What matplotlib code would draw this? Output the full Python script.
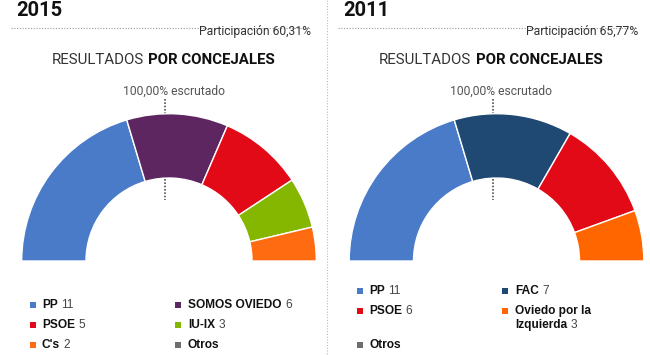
import matplotlib.pyplot as plt

# election results, seats per party
years = ['2015', '2011']
participacion = ['60,31%', '65,77%']
escrutado = '100,00% escrutado'

parties_2015 = ['PP', 'SOMOS OVIEDO', 'PSOE', 'IU-IX', "C's", 'Otros']
seats_2015 = [11, 6, 5, 3, 2, 0]
colors_2015 = ['#4A7BC9', '#5E2660', '#E20A17', '#86B700', '#FF6B10', '#6E6E6E']

parties_2011 = ['PP', 'FAC', 'PSOE', 'Oviedo por la\nIzquierda', 'Otros']
seats_2011 = [11, 7, 6, 3, 0]
colors_2011 = ['#4A7BC9', '#1F4972', '#E20A17', '#FF6600', '#6E6E6E']

W, H = 650, 355
fig = plt.figure(figsize=(6.5, 3.55), dpi=100)
ax0 = fig.add_axes([0, 0, 1, 1])
ax0.set_xlim(0, W)
ax0.set_ylim(H, 0)
ax0.axis('off')

# panel layout (pixels)
offsets = [0, 327]
centers = [169, 496.5]
base_y = 261
r_out = 147.3
hole = 83 / 147.3
legend_top = [305, 291]

panels = [(parties_2015, seats_2015, colors_2015),
          (parties_2011, seats_2011, colors_2011)]

# separator between panels
ax0.plot([327, 327], [0, H], color='#bbbbbb', lw=0.8, ls=(0, (1, 1.5)))

for i, (parties, seats, colors) in enumerate(panels):
    ox = offsets[i]
    cx = centers[i]

    # header
    ax0.text(ox + 16, 11, years[i], fontsize=14.5, fontweight='bold',
             family='Roboto', va='center', ha='left', color='#111111')
    ax0.plot([ox + 11, ox + 311], [28, 28], color='#999999', lw=0.8,
             ls=(0, (1, 1.5)))
    ax0.text(ox + 311, 32, 'Participación ' + participacion[i], fontsize=8.7,
             family='Roboto', ha='right', va='center', color='#333333')
    ax0.text(cx - 25, 60, 'RESULTADOS', fontsize=10.8, family='Roboto',
             ha='right', va='center', color='#333333')
    ax0.text(cx - 21, 60, 'POR CONCEJALES', fontsize=10.8, family='Roboto',
             fontweight='bold', ha='left', va='center', color='#111111')
    ax0.text(cx + 5, 91, escrutado, fontsize=8.7, family='Roboto',
             ha='center', va='center', color='#555555')
    # dotted line to the middle of the hemicycle
    ax0.plot([cx - 4, cx - 4], [99, 200], color='#555555', lw=1.2,
             ls=(0, (1, 1)))

    # hemicycle
    ax = fig.add_axes([(cx - r_out) / W, (H - base_y) / H,
                       2 * r_out / W, r_out / H])
    vals = [s for s in seats if s > 0]
    cols = [c for s, c in zip(seats, colors) if s > 0]
    wedges, _ = ax.pie(vals + [sum(vals)], colors=cols + ['none'],
                       startangle=180, counterclock=False, radius=1,
                       wedgeprops=dict(width=1 - hole, edgecolor='white',
                                       linewidth=1))
    wedges[-1].set_edgecolor('none')
    ax.set_xlim(-1, 1)
    ax.set_ylim(0, 1)
    ax.set_aspect('auto')
    ax.axis('off')

    # legend, two columns filled row by row
    y = legend_top[i]
    for row in range(0, len(parties), 2):
        row_lines = 1
        for col in range(2):
            k = row + col
            if k >= len(parties):
                continue
            mx = ox + (32 if col == 0 else 177)
            tx = ox + (42 if col == 0 else 188)
            ax0.scatter([mx + 0.5], [y], marker='s', s=24, color=colors[k],
                        linewidths=0)
            lines = parties[k].split('\n')
            row_lines = max(row_lines, len(lines))
            for j, line in enumerate(lines):
                t = ax0.text(tx, y + 14 * j, line, fontsize=8.6,
                             family='Liberation Sans', fontweight='bold',
                             ha='left', va='center', color='#111111')
            if seats[k] > 0:
                ax0.annotate(str(seats[k]), xy=(1, 0.5), xycoords=t,
                             xytext=(2.5, 0), textcoords='offset points',
                             fontsize=8.6, family='Liberation Sans',
                             ha='left', va='center', color='#444444')
        y += 20 + 14 * (row_lines - 1)

fig.savefig('out.png', dpi=100)
